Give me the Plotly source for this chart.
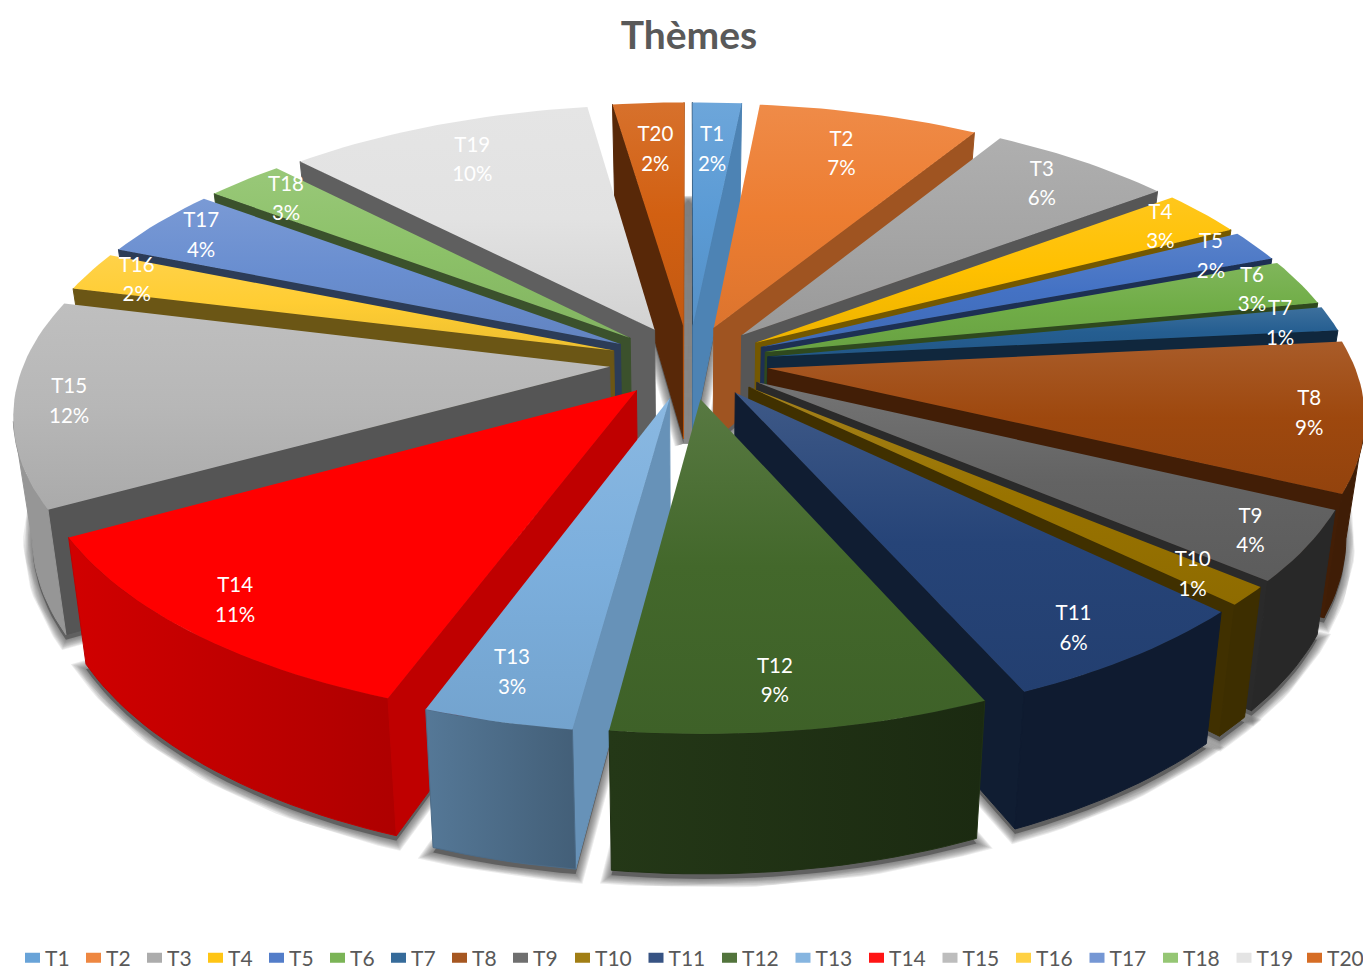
import math
import numpy as np
import plotly.graph_objects as go

# Themes and their shares, in the order they run clockwise from twelve o'clock
themes = ["T1", "T2", "T3", "T4", "T5", "T6", "T7", "T8", "T9", "T10",
          "T11", "T12", "T13", "T14", "T15", "T16", "T17", "T18", "T19", "T20"]
shares = [1.58, 7.12, 6.0, 2.7, 1.85, 2.7, 1.45, 8.7, 4.1, 1.1,
          6.1, 8.7, 3.45, 11.35, 12.0, 2.3, 4.1, 2.52, 9.88, 2.3]
colours = ["#5B9BD5", "#ED7D31", "#A5A5A5", "#FFC000", "#4472C4", "#70AD47", "#255E91",
           "#9E480E", "#636363", "#997300", "#264478", "#43682B", "#7CAFDD", "#FF0000",
           "#B7B7B7", "#FFCD33", "#698ED0", "#8CC168", "#E2E2E2", "#D26012"]
flat_themes = {"T14"}

# Pie geometry, in units of the pie radius
RADIUS, EXPLODE = 0.88, 0.12
# Perspective camera, in pixels of the 1363x971 page
CX, CY, SCALE_X, SCALE_Y, PERSP = 689.0, 362.0, 665.0, 306.0, 0.1785
THICK, BOTTOM_SHRINK = 115.0, 0.972
SHADOW_DROP = 5.0


def project(x, y, bottom=False):
    """Pie-plane point (y towards the viewer) to page pixels, top or bottom face."""
    w = 1 - PERSP * y
    if bottom:
        return CX + SCALE_X * BOTTOM_SHRINK * x / w, CY + (SCALE_Y * y + THICK) / w
    return CX + SCALE_X * x / w, CY + SCALE_Y * y / w


def shade(hex_colour, f):
    r, g, b = (int(hex_colour[i:i + 2], 16) for i in (1, 3, 5))
    return f"rgb({r * f:.0f},{g * f:.0f},{b * f:.0f})"


def tint(hex_colour, f):
    r, g, b = (int(hex_colour[i:i + 2], 16) for i in (1, 3, 5))
    return f"rgb({r + (255 - r) * f:.0f},{g + (255 - g) * f:.0f},{b + (255 - b) * f:.0f})"


def wall_light(phi):
    return float(np.interp(phi % 360, [95, 110, 150, 160, 360], [0.85, 0.75, 0.47, 0.42, 0.42]))


def rim_light(theta):
    return float(np.interp(theta % 360, [85, 180, 188, 199, 241, 285], [0.40, 0.40, 0.55, 0.68, 0.82, 0.82]))


def polygon(xs, ys, edge=None, **style):
    line = dict(width=1, color=edge) if edge else dict(width=0)
    return go.Scatter(x=list(xs) + [xs[0]], y=list(ys) + [ys[0]], mode="lines", line=line,
                      fill="toself", hoverinfo="skip", showlegend=False, **style)


total = sum(shares)
edges = np.cumsum([0] + shares) / total * 360.0
cam_y = 1 / PERSP

slices = []
for i, name in enumerate(themes):
    a0, a1 = edges[i], edges[i + 1]
    mid = math.radians((a0 + a1) / 2)
    slices.append(dict(name=name, colour=colours[i], a0=a0, a1=a1, mid=mid, share=shares[i],
                       ox=EXPLODE * math.sin(mid), oy=-EXPLODE * math.cos(mid)))


def arc(s):
    angles = np.linspace(s["a0"], s["a1"], max(8, int((s["a1"] - s["a0"]) / 1.5) + 2))
    return (angles, s["ox"] + RADIUS * np.sin(np.radians(angles)),
            s["oy"] - RADIUS * np.cos(np.radians(angles)))


# Soft drop shadow under the whole pie: a solid core with fading strokes round it
shadow_x, shadow_y = [], []
for s in slices:
    _, rx, ry = arc(s)
    pts = [project(s["ox"], s["oy"], True)] + [project(a, b, True) for a, b in zip(rx, ry)]
    pts.append(pts[0])
    shadow_x += [p[0] for p in pts] + [None]
    shadow_y += [p[1] + SHADOW_DROP for p in pts] + [None]

traces = []
for stroke in (18, 16, 14, 12, 10, 8, 6, 4, 2):
    traces.append(go.Scatter(x=shadow_x, y=shadow_y, mode="lines", hoverinfo="skip", showlegend=False,
                             line=dict(width=stroke, color="rgba(80,80,80,0.11)")))
traces.append(go.Scatter(x=shadow_x, y=shadow_y, mode="lines", fill="toself", fillcolor="#606060",
                         line=dict(width=0), hoverinfo="skip", showlegend=False))

for s in sorted(slices, key=lambda q: math.cos(q["mid"]), reverse=True):
    ox, oy, col = s["ox"], s["oy"], s["colour"]
    angles, rx, ry = arc(s)

    # Radial walls: shown only when they face the camera
    for ang, sign in ((s["a0"], -1), (s["a1"], 1)):
        phi = ang + 90 * sign
        nx, ny = math.sin(math.radians(phi)), -math.cos(math.radians(phi))
        if (0 - ox) * nx + (cam_y - oy) * ny <= 0:
            continue
        ex = ox + RADIUS * math.sin(math.radians(ang))
        ey = oy - RADIUS * math.cos(math.radians(ang))
        pts = [project(ox, oy), project(ex, ey), project(ex, ey, True), project(ox, oy, True)]
        wall = shade(col, wall_light(phi))
        traces.append(polygon([p[0] for p in pts], [p[1] for p in pts], edge=wall, fillcolor=wall))

    # Outer rim, the part of the arc turned towards the camera
    facing = (0 - rx) * np.sin(np.radians(angles)) + (cam_y - ry) * (-np.cos(np.radians(angles))) > 0
    if facing.sum() >= 2:
        top = [project(a, b) for a, b in zip(rx[facing], ry[facing])]
        low = [project(a, b, True) for a, b in zip(rx[facing], ry[facing])]
        poly = top + low[::-1]
        xs, ys = [p[0] for p in poly], [p[1] for p in poly]
        vis = angles[facing]
        left, right = (vis[0], vis[-1]) if top[0][0] < top[-1][0] else (vis[-1], vis[0])
        traces.append(polygon(xs, ys, edge=shade(col, (rim_light(left) + rim_light(right)) / 2),
                              fillgradient=dict(
            type="horizontal", start=min(xs), stop=max(xs),
            colorscale=[[0, shade(col, rim_light(left))], [1, shade(col, rim_light(right))]])))

    # Top face, lighter towards the back edge
    pts = [project(ox, oy)] + [project(a, b) for a, b in zip(rx, ry)]
    xs, ys = [p[0] for p in pts], [p[1] for p in pts]
    if s["name"] in flat_themes:
        traces.append(polygon(xs, ys, fillcolor=col))
    else:
        traces.append(polygon(xs, ys, fillgradient=dict(
            type="vertical", start=min(ys), stop=max(ys),
            colorscale=[[0, tint(col, 0.11)], [0.5, col], [1, shade(col, 0.93)]])))

# Data labels: theme name over its rounded share, in two rows
LINE_GAP, LABEL_DROP = 14.7, 3.0
lab_x, name_y, pct_y, name_t, pct_t = [], [], [], [], []
for s in slices:
    c = math.cos(s["mid"])
    r = 0.92 - 0.12 * max(0.0, c) ** 4 - 0.04 * max(0.0, -c) ** 4
    direction = s["mid"] + (math.radians(1.0) if c < -0.7 else 0.0)
    px, py = project(r * math.sin(direction), -r * math.cos(direction))
    lab_x.append(px)
    name_y.append(py - LINE_GAP + LABEL_DROP)
    pct_y.append(py + LINE_GAP + LABEL_DROP)
    name_t.append(s["name"])
    pct_t.append(f"{math.floor(s['share'] / total * 100 + 0.5)}%")
label_font = dict(family="Lato", size=20.5, color="white")
traces.append(go.Scatter(x=lab_x, y=name_y, text=name_t, mode="text", textposition="middle center",
                         textfont=label_font, hoverinfo="skip", showlegend=False))
traces.append(go.Scatter(x=lab_x, y=pct_y, text=pct_t, mode="text", textposition="middle center",
                         textfont=label_font, hoverinfo="skip", showlegend=False))


# Legend entries: a thick dashed stroke leaves one square key beside each name
def key(name, col, legend):
    return go.Scatter(x=[None], y=[None], name=name, mode="lines", legend=legend,
                      line=dict(width=14.7, color=tint(col, 0.08), dash="0px,15px,15px,60px"))


legend_rows = {"legend": themes[:9], "legend2": themes[9:19], "legend3": themes[19:]}
for legend, members in legend_rows.items():
    for name in members:
        traces.append(key(name, colours[themes.index(name)], legend))
    # A blank trailing slot keeps the last name of a row from being clipped
    if legend != "legend3":
        traces.append(key(" ", "#FFFFFF", legend))

W, H = 1363, 971
fig = go.Figure(traces)
legend_style = dict(orientation="h", yanchor="middle", y=13 / H, xanchor="left", bgcolor="rgba(0,0,0,0)",
                    font=dict(family="Lato", size=21, color="#595959"),
                    entrywidthmode="pixels", traceorder="normal",
                    itemclick=False, itemdoubleclick=False)
fig.update_layout(
    width=W, height=H, margin=dict(l=0, r=0, t=0, b=0, autoexpand=False),
    paper_bgcolor="white", plot_bgcolor="white",
    xaxis=dict(range=[0, W], visible=False, fixedrange=True),
    yaxis=dict(range=[H, 0], visible=False, fixedrange=True),
    title=dict(text="<b>Thèmes</b>", x=689 / W, xanchor="center", y=1 - 35 / H, yanchor="middle",
               font=dict(family="Lato", size=39, color="#595959")),
    legend=dict(x=5 / W, entrywidth=16, **legend_style),
    legend2=dict(x=555 / W, entrywidth=28.5, **legend_style),
    legend3=dict(x=1287 / W, entrywidth=36, **legend_style),
)
fig.write_html("out.html", config=dict(displayModeBar=False))
